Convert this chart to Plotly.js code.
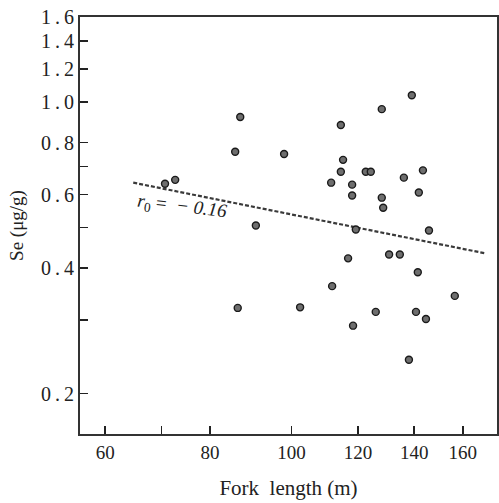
<!DOCTYPE html>
<html>
<head>
<meta charset="utf-8">
<script src="https://cdn.plot.ly/plotly-3.0.1.min.js"></script>
<style>html,body{margin:0;padding:0;background:#fff;}#chart{width:499px;height:503px;}</style>
</head>
<body>
<div id="chart"></div>
<script>
// Fork length (m) and Se (µg/g) of individual fish
const forkLength = [70.7, 72.7, 85.7, 86.9, 86.3,
  139.1, 128.1, 114.5, 98.0, 115.2, 114.5, 122.6, 124.3, 143.4, 111.5, 118.1, 136.1, 141.8, 118.1, 128.1, 128.6, 90.7, 119.3, 145.8,
  116.8, 130.7, 134.6, 141.4, 111.8, 156.5, 102.4, 126.0, 140.7, 144.6, 118.4, 138.0];
const seValue = [0.637, 0.651, 0.760, 0.921, 0.321,
  1.039, 0.962, 0.881, 0.751, 0.727, 0.681, 0.681, 0.681, 0.686, 0.641, 0.634, 0.659, 0.607, 0.597, 0.590, 0.558, 0.506, 0.495, 0.492,
  0.422, 0.431, 0.431, 0.391, 0.362, 0.343, 0.322, 0.314, 0.314, 0.302, 0.291, 0.241];
// regression line end points
const lineX = [64.8, 170];
const lineY = [0.641, 0.434];
// ticks
const xTickVals = [60, 70, 80, 100, 120, 140, 160];
const xTickText = ["60", "", "80", "100", "120", "140", "160"];
const yTickVals = [0.2, 0.3, 0.4, 0.5, 0.6, 0.7, 0.8, 1.0, 1.2, 1.4, 1.6];
const yTickText = ["0.2", "", "0.4", "", "0.6", "", "0.8", "1.0", "1.2", "1.4", "1.6"];
const corrLabel = "<i>r</i><sub>0</sub> =\u00A0\u00A0<i>−\u00A00.16</i>";

const serif = "Liberation Serif, Times New Roman, serif";
const ts = "\u2009";
const spaced = t => t === "" ? "" : t.split(".").join(ts + "." + ts);

const data = [
  {
    x: lineX, y: lineY, type: "scatter", mode: "lines",
    line: {color: "#3a3a3a", width: 2.2, dash: "4px,2px"},
    hoverinfo: "skip"
  },
  {
    x: forkLength, y: seValue, type: "scatter", mode: "markers",
    marker: {size: 7, color: "#6e6e6e", line: {color: "#1a1a1a", width: 1.4}}
  }
];

const layout = {
  width: 499, height: 503,
  margin: {l: 80, r: 2, t: 17, b: 69},
  paper_bgcolor: "#fff", plot_bgcolor: "#fff",
  showlegend: false,
  font: {family: serif, color: "#222", size: 18},
  xaxis: {
    type: "log",
    range: [Math.log10(56.0), Math.log10(175.7)],
    tickvals: xTickVals, ticktext: xTickText,
    ticks: "inside", ticklen: 8, tickwidth: 1.5, tickcolor: "#222",
    showline: true, linecolor: "#333", linewidth: 2, mirror: true,
    showgrid: false, zeroline: false,
    tickfont: {family: serif, size: 19, color: "#222"},
    title: {text: "Fork\u00A0\u00A0length\u00A0(m)", font: {family: serif, size: 21, color: "#222"}, standoff: 19}
  },
  yaxis: {
    type: "log",
    range: [Math.log10(0.16), Math.log10(1.6)],
    tickvals: yTickVals, ticktext: yTickText.map(spaced),
    ticks: "inside", ticklen: 8, tickwidth: 1.5, tickcolor: "#222",
    showline: true, linecolor: "#333", linewidth: 2, mirror: true,
    showgrid: false, zeroline: false,
    tickfont: {family: serif, size: 20, color: "#222"},
    title: {text: "Se (μg/g)", font: {family: serif, size: 19, color: "#222"}, standoff: 12}
  },
  annotations: [{
    text: corrLabel, xref: "paper", yref: "paper", x: 0.245, y: 0.545,
    xanchor: "center", yanchor: "middle",
    showarrow: false, textangle: 7,
    font: {family: serif, size: 19, color: "#222"}
  }]
};

Plotly.newPlot("chart", data, layout, {displayModeBar: false, staticPlot: true});
</script>
</body>
</html>
